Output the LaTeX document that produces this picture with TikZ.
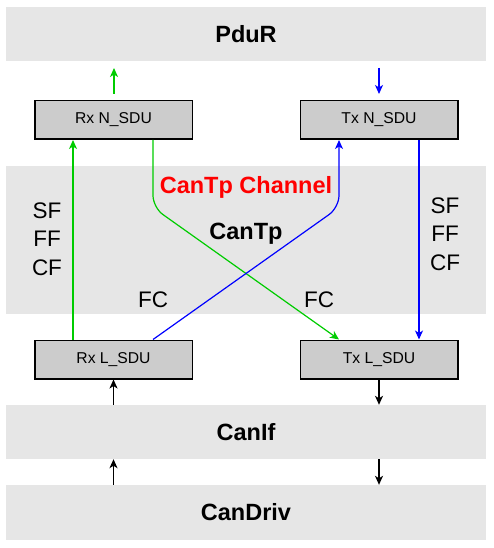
\documentclass[tikz,border=0pt]{standalone}
\usepackage{fontspec}
\setmainfont{Liberation Sans}
\usetikzlibrary{arrows.meta,calc}
\definecolor{bandgray}{HTML}{E6E6E6}
\definecolor{boxgray}{HTML}{CCCCCC}
\definecolor{gline}{HTML}{00CC00}
\definecolor{bline}{HTML}{0000FF}
\begin{document}
\begin{tikzpicture}[x=1pt,y=-1pt,
  band/.style={fill=bandgray,minimum width=480pt,inner sep=0pt,font=\fontsize{23.5}{28}\selectfont\bfseries},
  sdu/.style={draw=black,line width=1.5pt,fill=boxgray,minimum width=157.5pt,minimum height=38.5pt,inner sep=0pt,font=\fontsize{15.7}{18}\selectfont},
  lbl/.style={inner sep=0pt,align=center,font=\fontsize{22.5}{28.5}\selectfont},
  tip/.style={-{Stealth[length=9pt,width=8pt,inset=2.5pt]}},
  gl/.style={tip,draw=gline,line width=1.2pt},
  bl/.style={tip,draw=bline,line width=1.2pt},
  kl/.style={tip,draw=black,line width=1.2pt}]
\useasboundingbox (0,0) rectangle (494,548);
% bands
\node[band,minimum height=54pt] (pdur) at (246,34) {PduR};
\node[band,minimum height=148pt] (cantpband) at (246,240) {};
\node[band,minimum height=54pt] (canif) at (246,432) {CanIf};
\node[band,minimum height=55pt] (candriv) at (246,512.5) {CanDriv};
% boxes
\node[sdu] (rxn) at (113.5,120) {Rx N\_SDU};
\node[sdu] (txn) at (379,120) {Tx N\_SDU};
\node[sdu] (rxl) at (113.5,359.5) {Rx L\_SDU};
\node[sdu] (txl) at (379,359.5) {Tx L\_SDU};
% texts in CanTp
\node[inner sep=0pt,text=red,font=\fontsize{23.5}{28}\selectfont\bfseries] (chan) at (246,187) {CanTp Channel};
\node[inner sep=0pt,font=\fontsize{23.5}{28}\selectfont\bfseries] (cantp) at (246,234) {CanTp};
\node[lbl] (sfl) at (47,239) {SF\\FF\\CF};
\node[lbl] (sfr) at (445,234) {SF\\FF\\CF};
\node[lbl] (fcl) at (153,300) {FC};
\node[lbl] (fcr) at (319,300) {FC};
% top arrows
\coordinate (gs) at (114,94);
\coordinate (ge) at (114,68);
\coordinate (bs) at (379,68);
\coordinate (be) at (379,94);
\draw[gl] (gs) -- (ge);
\draw[bl] (bs) -- (be);
% CanTp connectors
\draw[gl] ($(rxl.north)+(-40.5,0)$) -- ($(rxn.south)+(-40.5,0)$);
\draw[gl,rounded corners=12pt] ($(rxn.south)+(39.5,0)$) -- ($(rxn.south)+(39.5,67.5)$) -- ($(txl.north)+(-40,0)$);
\draw[bl,rounded corners=12pt] ($(rxl.north)+(39.5,0)$) -- ($(txn.south)+(-40,67.5)$) -- ($(txn.south)+(-40,0)$);
\draw[bl] ($(txn.south)+(40,0)$) -- ($(txl.north)+(40,0)$);
% lower arrows
\draw[kl] (canif.north -| rxl.south) -- (rxl.south);
\draw[kl] (txl.south) -- (canif.north -| txl.south);
\draw[kl] (candriv.north -| rxl.south) -- (canif.south -| rxl.south);
\draw[kl] (canif.south -| txl.south) -- (candriv.north -| txl.south);
\end{tikzpicture}
\end{document}
